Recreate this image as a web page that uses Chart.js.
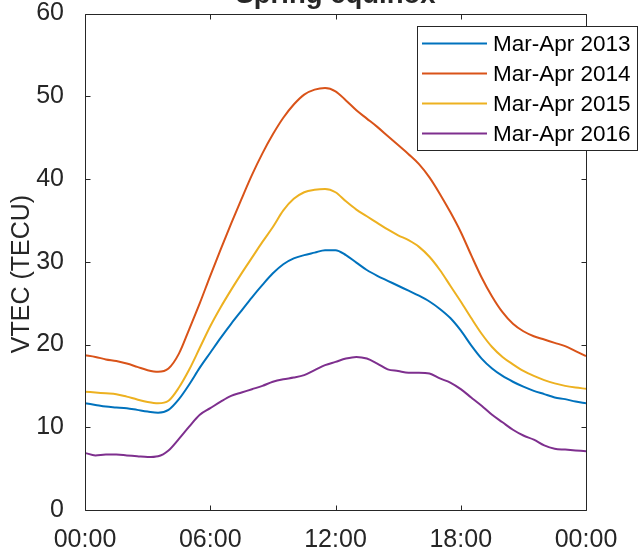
<!DOCTYPE html>
<html>
<head>
<meta charset="utf-8">
<script src="https://cdn.jsdelivr.net/npm/chart.js@4.4.0/dist/chart.umd.min.js"></script>
<style>
  html, body { margin: 0; padding: 0; background: #fff; }
</style>
</head>
<body>
<canvas id="chart" width="641" height="554"></canvas>
<script>
// local time of day, hours
const hours = [0, 0.5, 1, 1.5, 2, 2.5, 3, 3.5, 4, 4.5, 5, 5.5, 6, 6.5, 7, 7.5, 8, 8.5, 9, 9.5,
  10, 10.5, 11, 11.5, 12, 12.5, 13, 13.5, 14, 14.5, 15, 15.5, 16, 16.5, 17, 17.5, 18, 18.5, 19, 19.5,
  20, 20.5, 21, 21.5, 22, 22.5, 23, 23.5, 24];

const vtec2013 = [12.9, 12.7, 12.5, 12.4, 12.3, 12.1, 11.9, 11.75, 12.1, 13.4, 15.2, 17.2, 19.0, 20.8, 22.5, 24.1, 25.7, 27.2, 28.6, 29.7,
  30.4, 30.8, 31.1, 31.4, 31.4, 30.8, 29.9, 29.0, 28.3, 27.7, 27.1, 26.5, 25.9, 25.2, 24.3, 23.2, 21.7, 19.9, 18.3, 17.1,
  16.2, 15.5, 14.9, 14.4, 14.0, 13.6, 13.4, 13.1, 12.9];

const vtec2014 = [18.7, 18.5, 18.2, 18.0, 17.7, 17.3, 16.9, 16.7, 17.1, 18.9, 21.9, 25.0, 28.3, 31.5, 34.6, 37.6, 40.5, 43.1, 45.4, 47.4,
  49.0, 50.2, 50.8, 51.0, 50.6, 49.5, 48.3, 47.3, 46.3, 45.2, 44.1, 43.0, 41.8, 40.2, 38.2, 36.0, 33.6, 30.8, 28.1, 25.8,
  23.9, 22.5, 21.6, 21.0, 20.6, 20.2, 19.8, 19.2, 18.6];

const vtec2015 = [14.3, 14.2, 14.1, 14.0, 13.7, 13.35, 13.05, 12.9, 13.2, 14.8, 17.0, 19.6, 22.2, 24.5, 26.6, 28.6, 30.5, 32.4, 34.2, 36.2,
  37.6, 38.4, 38.7, 38.8, 38.4, 37.3, 36.3, 35.5, 34.7, 33.9, 33.2, 32.6, 31.8, 30.6, 29.0, 27.1, 25.2, 23.2, 21.3, 19.7,
  18.5, 17.6, 16.8, 16.2, 15.7, 15.3, 15.0, 14.8, 14.65];

const vtec2016 = [6.9, 6.6, 6.7, 6.7, 6.6, 6.5, 6.4, 6.5, 7.2, 8.6, 10.1, 11.5, 12.3, 13.1, 13.8, 14.2, 14.6, 15.0, 15.5, 15.8,
  16.0, 16.3, 16.9, 17.5, 17.9, 18.3, 18.5, 18.3, 17.7, 17.0, 16.8, 16.6, 16.6, 16.5, 15.9, 15.4, 14.6, 13.6, 12.6, 11.5,
  10.6, 9.7, 9.0, 8.5, 7.8, 7.4, 7.3, 7.2, 7.1];

const seriesNames = ['Mar-Apr 2013', 'Mar-Apr 2014', 'Mar-Apr 2015', 'Mar-Apr 2016'];
const seriesColors = ['#0072BD', '#D95319', '#EDB120', '#7E2F8E'];

const xTickValues = [0, 6, 12, 18, 24];
const xTickLabels = ['00:00', '06:00', '12:00', '18:00', '00:00'];
const yTickValues = [0, 10, 20, 30, 40, 50, 60];

const chartTitle = 'Spring equinox';
const yTitle = 'VTEC (TECU)';

const FONT = '"Liberation Sans", Arial, Helvetica, sans-serif';
const INK = '#262626';

const toPoints = vals => hours.map((h, i) => ({ x: h, y: vals[i] }));

// matlab-like box, inward ticks, title, ylabel and legend
const matlabAxes = {
  id: 'matlabAxes',
  afterDraw(chart) {
    const { ctx, chartArea: a, scales: { x, y } } = chart;
    const L = Math.round(a.left) + 0.5, R = Math.round(a.right) + 0.5;
    const T = Math.round(a.top) + 0.5, B = Math.round(a.bottom) + 0.5;
    ctx.save();
    ctx.strokeStyle = INK;
    ctx.lineWidth = 1;
    ctx.beginPath();
    ctx.rect(L, T, R - L, B - T);
    xTickValues.forEach(v => {
      const px = Math.round(x.getPixelForValue(v)) + 0.5;
      ctx.moveTo(px, B); ctx.lineTo(px, B - 5);
      ctx.moveTo(px, T); ctx.lineTo(px, T + 5);
    });
    yTickValues.forEach(v => {
      const py = Math.round(y.getPixelForValue(v)) + 0.5;
      ctx.moveTo(L, py); ctx.lineTo(L + 5, py);
      ctx.moveTo(R, py); ctx.lineTo(R - 5, py);
    });
    ctx.stroke();

    // title, cut off by the top edge like the original
    ctx.fillStyle = INK;
    ctx.font = 'bold 27.5px ' + FONT;
    ctx.textAlign = 'center';
    ctx.textBaseline = 'alphabetic';
    ctx.fillText(chartTitle, (a.left + a.right) / 2, 3);

    // y axis title
    ctx.save();
    ctx.translate(22, 274);
    ctx.rotate(-Math.PI / 2);
    ctx.font = '25px ' + FONT;
    ctx.textBaseline = 'middle';
    ctx.fillText(yTitle, 0, 0);
    ctx.restore();

    // legend
    const bx = 417.5, by = 26.5, bw = 220, bh = 124;
    ctx.fillStyle = '#fff';
    ctx.fillRect(bx, by, bw, bh);
    ctx.strokeStyle = INK;
    ctx.strokeRect(bx, by, bw, bh);
    ctx.font = '22.5px ' + FONT;
    ctx.textAlign = 'left';
    ctx.textBaseline = 'middle';
    chart.data.datasets.forEach((ds, i) => {
      const ry = 43.5 + i * 30;
      ctx.strokeStyle = ds.borderColor;
      ctx.lineWidth = 2;
      ctx.beginPath();
      ctx.moveTo(422, ry); ctx.lineTo(487, ry);
      ctx.stroke();
      ctx.fillStyle = '#000';
      ctx.fillText(ds.label, 493, ry + 1);
    });
    ctx.restore();
  }
};

new Chart(document.getElementById('chart'), {
  type: 'line',
  data: {
    datasets: [vtec2013, vtec2014, vtec2015, vtec2016].map((vals, i) => ({
      label: seriesNames[i],
      data: toPoints(vals),
      borderColor: seriesColors[i],
      backgroundColor: seriesColors[i],
      borderWidth: 2,
      pointRadius: 0,
      cubicInterpolationMode: 'monotone',
      fill: false
    }))
  },
  options: {
    responsive: false,
    animation: false,
    layout: { padding: { top: 13.5, right: 55, left: 0, bottom: 0 } },
    plugins: { legend: { display: false }, tooltip: { enabled: false }, title: { display: false } },
    scales: {
      x: {
        type: 'linear',
        min: 0,
        max: 24,
        afterBuildTicks: s => { s.ticks = xTickValues.map(v => ({ value: v })); },
        afterFit: s => { s.height = 44; s.paddingLeft = 0; s.paddingRight = 0; },
        grid: { display: false },
        border: { display: false },
        ticks: {
          padding: 7,
          color: INK,
          font: { family: FONT, size: 25 },
          maxRotation: 0,
          callback: (v, i) => xTickLabels[i]
        }
      },
      y: {
        min: 0,
        max: 60,
        afterBuildTicks: s => { s.ticks = yTickValues.map(v => ({ value: v })); },
        afterFit: s => { s.width = 85; s.paddingTop = 0; s.paddingBottom = 0; },
        grid: { display: false },
        border: { display: false },
        ticks: {
          padding: 13,
          color: INK,
          font: { family: FONT, size: 25 }
        }
      }
    }
  },
  plugins: [matlabAxes]
});
</script>
</body>
</html>
